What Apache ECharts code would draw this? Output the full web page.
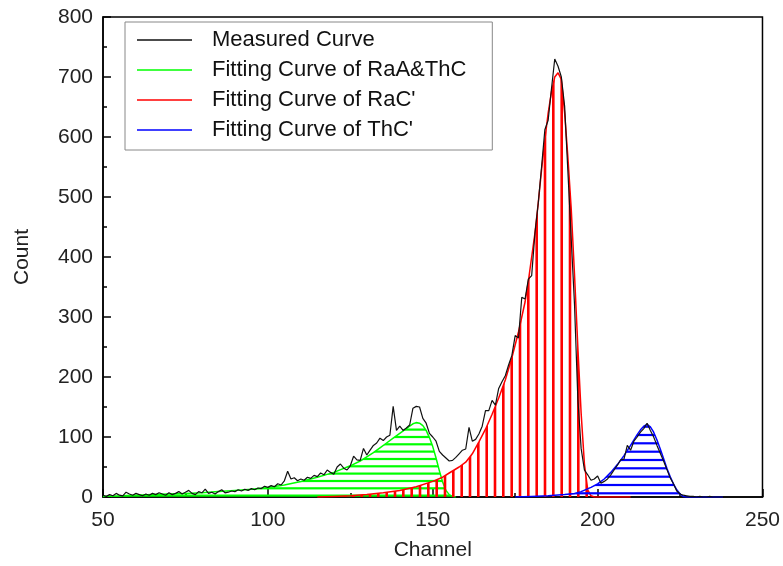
<!DOCTYPE html>
<html>
<head>
<meta charset="utf-8">
<script src="https://cdn.jsdelivr.net/npm/echarts@6/dist/echarts.min.js"></script>
<style>
html,body{margin:0;padding:0;background:#fff;}
#chart{width:783px;height:566px;}
</style>
</head>
<body>
<div id="chart"></div>
<script>
// ---- Data ----
const seriesNames = ['Measured Curve', 'Fitting Curve of RaA&ThC', "Fitting Curve of RaC'", "Fitting Curve of ThC'"];
const xTicks = [50, 100, 150, 200, 250];
const yTicks = [0, 100, 200, 300, 400, 500, 600, 700, 800];

// Measured counts, one value per channel starting at channel 50
const measuredStart = 50;
const measured = [
  3,1,4,2,6,3,2,8,5,3,
  6,4,2,5,3,6,4,7,5,3,
  7,4,6,9,5,8,11,6,4,9,
  7,13,6,8,5,9,12,7,8,10,
  9,12,10,13,11,14,12,15,14,18,
  16,19,17,22,20,27,43,30,32,27,
  30,28,33,31,36,34,40,37,45,41,
  38,50,55,48,45,52,68,62,61,81,
  70,78,86,90,98,94,100,103,151,111,
  118,111,115,120,148,151,150,131,123,106,
  100,93,76,70,65,60,61,66,72,78,
  80,116,93,96,105,118,144,144,161,153,
  181,192,202,220,236,269,265,333,330,363,
  369,440,490,550,612,628,680,730,718,700,
  651,541,430,320,164,81,45,37,28,30,
  35,23,26,30,37,45,53,62,63,86,
  78,93,100,108,114,123,111,100,86,73,
  60,46,32,22,10,5,3,2,1,1,
  0,1,0,0,1,0,0,0,0,0,0
];

// Fitted curves: [channel, count]
const fitRaAThC = [
  [50,1],[52,1.5],[55,2],[60,3],[65,4],[70,5],[75,6],[80,7],[85,9],[90,11],[95,13],
  [100,16],[105,20],[110,26],[115,33],[120,41],[125,52],[128,60],[130,67],[132,74],
  [134,82],[136,90],[138,98],[140,106],[142,114],[143,118],[144,122],[145,124],[146,123],
  [147,119],[148,111],[149,99],[150,84],[151,65],[152,44],[153,25],[154,11],[155,4],[156,1],[157,0]
];
const fitRaC = [
  [115,0],[120,1],[125,2],[130,4],[135,7],[140,11],[145,17],[150,26],[153,33],[155,40],
  [158,50],[160,58],[162,72],[164,92],[166,113],[168,138],[170,165],[172,195],[174,232],
  [176,275],[177,300],[178,325],[179,360],[180,400],[181,440],[182,490],[183,545],[184,595],
  [185,640],[186,675],[187,700],[188,707],[189,696],[190,640],[191,565],[192,480],[193,370],
  [194,250],[195,140],[196,55],[197,12],[198,2],[199,0],[210,0]
];
const fitThC = [
  [175,0],[180,1],[185,2],[190,4],[193,6],[195,9],[198,16],[200,22],[202,30],[204,41],
  [206,54],[208,69],[210,86],[212,104],[213,112],[214,118],[215,121],[216,117],[217,108],
  [218,95],[219,80],[220,64],[221,48],[222,34],[223,22],[224,12],[225,5],[226,1],[227,0],[238,0]
];

// ---- Helpers ----
function stripePattern(color, size, centers, thick, vertical) {
  const c = document.createElement('canvas');
  c.width = vertical ? size : 4;
  c.height = vertical ? 4 : size;
  const ctx = c.getContext('2d');
  ctx.fillStyle = color;
  centers.forEach(function (p) {
    if (vertical) ctx.fillRect(p - thick / 2, 0, thick, 4);
    else ctx.fillRect(0, p - thick / 2, 4, thick);
  });
  return { image: c, repeat: 'repeat' };
}
const greenHatch = stripePattern('#00ff00', 22, [4.3, 11.6, 19.0], 2.2, false);
const redHatch = stripePattern('#ff0000', 25, [3.3, 11.7, 20.0], 2.6, true);
const blueHatch = stripePattern('#0000ff', 25, [1.7, 10.0, 18.3], 2.2, false);

const measuredData = measured.map(function (v, i) { return [measuredStart + i, v]; });

const font = "'Liberation Sans', Arial, sans-serif";
const chart = echarts.init(document.getElementById('chart'), null, { renderer: 'canvas' });
chart.setOption({
  animation: false,
  backgroundColor: '#fff',
  grid: { left: 103, right: 19, top: 17, bottom: 67, show: true, borderColor: '#000', borderWidth: 1.5, containLabel: false },
  legend: {
    data: seriesNames,
    orient: 'vertical',
    left: 125, top: 22,
    padding: [7, 26, 9, 12],
    itemGap: 8,
    icon: 'rect',
    itemWidth: 55, itemHeight: 1.5,
    borderColor: '#888', borderWidth: 1,
    textStyle: { fontFamily: font, fontSize: 22, color: '#111', lineHeight: 22, padding: [0, 0, 0, 15] }
  },
  xAxis: {
    type: 'value', min: xTicks[0], max: xTicks[xTicks.length - 1], interval: 50,
    name: 'Channel', nameLocation: 'middle', nameGap: 43,
    nameTextStyle: { fontFamily: font, fontSize: 21, color: '#222' },
    axisLine: { show: true, lineStyle: { color: '#000', width: 1.5 } },
    axisTick: { show: true, inside: true, length: 8, lineStyle: { color: '#000', width: 1.5 } },
    minorTick: { show: true, splitNumber: 2, length: 4, lineStyle: { color: '#000', width: 1.5 } },
    axisLabel: { fontFamily: font, fontSize: 21, color: '#222', margin: 13 },
    splitLine: { show: false }
  },
  yAxis: {
    type: 'value', min: yTicks[0], max: yTicks[yTicks.length - 1], interval: 100,
    name: 'Count', nameLocation: 'middle', nameGap: 70,
    nameTextStyle: { fontFamily: font, fontSize: 21, color: '#222' },
    axisLine: { show: true, lineStyle: { color: '#000', width: 1.5 } },
    axisTick: { show: true, inside: true, length: 8, lineStyle: { color: '#000', width: 1.5 } },
    minorTick: { show: true, splitNumber: 2, length: 4, lineStyle: { color: '#000', width: 1.5 } },
    axisLabel: { fontFamily: font, fontSize: 21, color: '#222', margin: 10 },
    splitLine: { show: false }
  },
  series: [
    {
      name: seriesNames[1], type: 'line', data: fitRaAThC, symbol: 'none',
      lineStyle: { color: '#00ff00', width: 1.5 }, itemStyle: { color: '#00ff00' },
      areaStyle: { color: greenHatch, opacity: 1 }, z: 2
    },
    {
      name: seriesNames[2], type: 'line', data: fitRaC, symbol: 'none',
      lineStyle: { color: '#ff0000', width: 1.5 }, itemStyle: { color: '#ff0000' },
      areaStyle: { color: redHatch, opacity: 1 }, z: 3
    },
    {
      name: seriesNames[3], type: 'line', data: fitThC, symbol: 'none',
      lineStyle: { color: '#0000ff', width: 1.5 }, itemStyle: { color: '#0000ff' },
      areaStyle: { color: blueHatch, opacity: 1 }, z: 4
    },
    {
      name: seriesNames[0], type: 'line', data: measuredData, symbol: 'none',
      lineStyle: { color: '#111', width: 1.2 }, itemStyle: { color: '#111' }, z: 5
    }
  ]
});
</script>
</body>
</html>
